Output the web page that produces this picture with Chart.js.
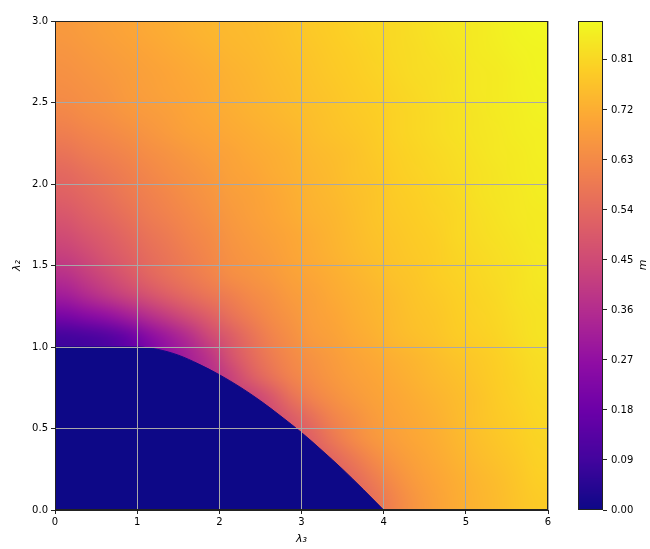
<!DOCTYPE html>
<html>
<head>
<meta charset="utf-8">
<script src="https://cdn.jsdelivr.net/npm/chart.js@4.4.1/dist/chart.umd.min.js"></script>
<style>
    html, body { margin: 0; padding: 0; background: #fff; }
    #wrap { position: relative; width: 650px; height: 549px; }
    #mainChart { position: absolute; left: 0; top: 0; }
    #barChart { position: absolute; left: 560px; top: 0; }
</style>
</head>
<body>
<div id="wrap">
    <canvas id="mainChart" width="560" height="549"></canvas>
    <canvas id="barChart" width="90" height="549"></canvas>
</div>
<script>
// cell centres of the m(lambda3, lambda2) grid
const lambda3Centers = [0.125, 0.375, 0.625, 0.875, 1.125, 1.375, 1.625, 1.875,
    2.125, 2.375, 2.625, 2.875, 3.125, 3.375, 3.625, 3.875,
    4.125, 4.375, 4.625, 4.875, 5.125, 5.375, 5.625, 5.875];
const lambda2Centers = [2.9375, 2.8125, 2.6875, 2.5625, 2.4375, 2.3125, 2.1875, 2.0625,
    1.9375, 1.8125, 1.6875, 1.5625, 1.4375, 1.3125, 1.1875, 1.0625,
    0.9375, 0.8125, 0.6875, 0.5625, 0.4375, 0.3125, 0.1875, 0.0625];

// m values, one row per lambda2 centre (top to bottom)
const mRows = [
    [0.67, 0.68, 0.69, 0.70, 0.71, 0.72, 0.73, 0.74, 0.745, 0.75, 0.76, 0.77, 0.78, 0.79, 0.80, 0.81, 0.815, 0.825, 0.835, 0.845, 0.85, 0.86, 0.87, 0.875],
    [0.66, 0.67, 0.68, 0.69, 0.70, 0.71, 0.72, 0.73, 0.74, 0.745, 0.755, 0.765, 0.775, 0.785, 0.795, 0.805, 0.815, 0.82, 0.83, 0.84, 0.85, 0.855, 0.865, 0.87],
    [0.65, 0.66, 0.67, 0.68, 0.69, 0.70, 0.71, 0.72, 0.73, 0.74, 0.75, 0.76, 0.77, 0.78, 0.79, 0.80, 0.81, 0.82, 0.825, 0.835, 0.845, 0.85, 0.86, 0.87],
    [0.64, 0.65, 0.66, 0.675, 0.685, 0.695, 0.705, 0.715, 0.725, 0.735, 0.745, 0.755, 0.765, 0.775, 0.785, 0.795, 0.805, 0.815, 0.825, 0.835, 0.845, 0.85, 0.86, 0.865],
    [0.625, 0.64, 0.65, 0.665, 0.675, 0.685, 0.70, 0.71, 0.72, 0.73, 0.74, 0.75, 0.76, 0.77, 0.78, 0.79, 0.80, 0.81, 0.82, 0.83, 0.84, 0.85, 0.855, 0.865],
    [0.60, 0.615, 0.63, 0.645, 0.66, 0.675, 0.69, 0.70, 0.71, 0.72, 0.73, 0.74, 0.755, 0.765, 0.775, 0.785, 0.80, 0.81, 0.82, 0.83, 0.84, 0.845, 0.855, 0.86],
    [0.57, 0.59, 0.605, 0.62, 0.64, 0.655, 0.67, 0.685, 0.695, 0.71, 0.72, 0.73, 0.745, 0.755, 0.765, 0.78, 0.795, 0.805, 0.815, 0.825, 0.835, 0.845, 0.85, 0.86],
    [0.54, 0.56, 0.58, 0.60, 0.62, 0.64, 0.655, 0.67, 0.69, 0.70, 0.715, 0.725, 0.74, 0.75, 0.765, 0.775, 0.79, 0.80, 0.81, 0.82, 0.83, 0.84, 0.85, 0.855],
    [0.52, 0.54, 0.56, 0.585, 0.605, 0.625, 0.645, 0.66, 0.68, 0.69, 0.705, 0.72, 0.735, 0.745, 0.76, 0.77, 0.785, 0.795, 0.805, 0.815, 0.83, 0.84, 0.845, 0.855],
    [0.49, 0.515, 0.54, 0.565, 0.59, 0.61, 0.63, 0.65, 0.67, 0.685, 0.70, 0.715, 0.73, 0.74, 0.755, 0.77, 0.78, 0.79, 0.80, 0.81, 0.825, 0.835, 0.845, 0.85],
    [0.455, 0.485, 0.51, 0.54, 0.57, 0.59, 0.615, 0.635, 0.66, 0.675, 0.69, 0.705, 0.72, 0.735, 0.75, 0.765, 0.775, 0.785, 0.795, 0.81, 0.82, 0.83, 0.84, 0.85],
    [0.42, 0.45, 0.485, 0.515, 0.55, 0.575, 0.60, 0.625, 0.65, 0.665, 0.68, 0.70, 0.715, 0.73, 0.745, 0.76, 0.77, 0.78, 0.79, 0.805, 0.815, 0.825, 0.835, 0.845],
    [0.37, 0.41, 0.45, 0.49, 0.53, 0.56, 0.585, 0.61, 0.64, 0.655, 0.67, 0.69, 0.705, 0.72, 0.735, 0.75, 0.765, 0.775, 0.79, 0.80, 0.81, 0.82, 0.83, 0.845],
    [0.31, 0.35, 0.39, 0.43, 0.47, 0.51, 0.545, 0.575, 0.60, 0.63, 0.65, 0.675, 0.69, 0.71, 0.725, 0.74, 0.755, 0.77, 0.78, 0.795, 0.805, 0.815, 0.83, 0.84],
    [0.21, 0.24, 0.27, 0.31, 0.36, 0.41, 0.46, 0.51, 0.56, 0.60, 0.635, 0.66, 0.685, 0.70, 0.72, 0.735, 0.75, 0.765, 0.775, 0.79, 0.80, 0.81, 0.825, 0.835],
    [0.09, 0.10, 0.12, 0.16, 0.24, 0.30, 0.36, 0.44, 0.50, 0.56, 0.61, 0.645, 0.675, 0.69, 0.71, 0.725, 0.745, 0.76, 0.77, 0.785, 0.795, 0.805, 0.82, 0.835],
    [0, 0, 0, 0, 0.20, 0.27, 0.32, 0.38, 0.47, 0.54, 0.59, 0.63, 0.655, 0.675, 0.695, 0.71, 0.725, 0.74, 0.755, 0.77, 0.78, 0.795, 0.81, 0.825],
    [0, 0, 0, 0, 0, 0, 0, 0.36, 0.42, 0.50, 0.56, 0.61, 0.64, 0.665, 0.685, 0.70, 0.715, 0.73, 0.745, 0.76, 0.775, 0.79, 0.805, 0.82],
    [0, 0, 0, 0, 0, 0, 0, 0, 0, 0.42, 0.48, 0.56, 0.61, 0.645, 0.67, 0.69, 0.705, 0.72, 0.735, 0.75, 0.765, 0.785, 0.80, 0.815],
    [0, 0, 0, 0, 0, 0, 0, 0, 0, 0, 0.45, 0.50, 0.555, 0.61, 0.645, 0.675, 0.695, 0.71, 0.725, 0.745, 0.765, 0.78, 0.795, 0.81],
    [0, 0, 0, 0, 0, 0, 0, 0, 0, 0, 0, 0.48, 0.52, 0.58, 0.63, 0.665, 0.685, 0.705, 0.72, 0.74, 0.76, 0.775, 0.79, 0.805],
    [0, 0, 0, 0, 0, 0, 0, 0, 0, 0, 0, 0, 0.49, 0.53, 0.58, 0.63, 0.665, 0.69, 0.71, 0.73, 0.75, 0.765, 0.78, 0.80],
    [0, 0, 0, 0, 0, 0, 0, 0, 0, 0, 0, 0, 0, 0.50, 0.54, 0.59, 0.64, 0.675, 0.70, 0.72, 0.74, 0.755, 0.775, 0.795],
    [0, 0, 0, 0, 0, 0, 0, 0, 0, 0, 0, 0, 0, 0, 0.51, 0.56, 0.615, 0.66, 0.69, 0.715, 0.735, 0.75, 0.77, 0.785]
];

// edge of the m = 0 region
const boundaryLambda3 = [0, 1.0, 1.25, 1.5, 1.75, 2.0, 2.25, 2.5, 2.75, 3.0, 3.25, 3.5, 3.75, 4.0];
const boundaryLambda2 = [1.0, 1.0, 0.985, 0.95, 0.895, 0.83, 0.755, 0.67, 0.575, 0.475, 0.365, 0.25, 0.127, 0.0];

const xTicks = [0, 1, 2, 3, 4, 5, 6];
const yTicks = [0, 0.5, 1.0, 1.5, 2.0, 2.5, 3.0];
const cbTicks = [0, 0.09, 0.18, 0.27, 0.36, 0.45, 0.54, 0.63, 0.72, 0.81];
const mMax = 0.88;

// plasma colormap stops
const plasma = ['#0d0887', '#41049d', '#6a00a8', '#8f0da4', '#b12a90', '#cc4778',
    '#e16462', '#f2844b', '#fca636', '#fcce25', '#f0f921'];

function hexToRgb(h) {
    return [parseInt(h.slice(1, 3), 16), parseInt(h.slice(3, 5), 16), parseInt(h.slice(5, 7), 16)];
}
const plasmaRgb = plasma.map(hexToRgb);

function rgbFor(m) {
    let t = Math.min(Math.max(m / mMax, 0), 1) * (plasmaRgb.length - 1);
    let i = Math.min(Math.floor(t), plasmaRgb.length - 2);
    let f = t - i;
    let a = plasmaRgb[i], b = plasmaRgb[i + 1];
    return a.map((v, k) => Math.round(v + (b[k] - v) * f));
}

function colorFor(m) {
    return 'rgb(' + rgbFor(m).join(',') + ')';
}

const font = { family: 'DejaVu Sans', size: 10 };
const textColor = '#000';
const gridColor = '#a8a8a8';

// paints the grid cells (smoothed like imshow) onto the area given by the scales
const cellPlugin = {
    id: 'cells',
    beforeDatasetsDraw(chart) {
        const { ctx, chartArea, scales: { x, y } } = chart;
        const nx = lambda3Centers.length, ny = lambda2Centers.length;
        const w = lambda3Centers[1] - lambda3Centers[0];
        const h = lambda2Centers[0] - lambda2Centers[1];

        // one pixel per cell, plus a 1px copied border so the edges do not fade
        let off = document.createElement('canvas');
        off.width = nx + 2;
        off.height = ny + 2;
        let octx = off.getContext('2d');
        let img = octx.createImageData(nx + 2, ny + 2);
        let colors = [];
        for (let i = 0; i < ny; i++) colors.push([]);
        for (let j = 0; j < nx; j++) {
            let above = null;
            for (let i = 0; i < ny; i++) {
                let m = mRows[i][j];
                // cells inside the m = 0 area are painted over by the boundary fill,
                // keep the colour of the cell above so the smoothing does not bleed dark
                let c = (m > 0 || above === null) ? rgbFor(m) : above;
                if (m > 0) above = c;
                colors[i][j] = c;
            }
        }
        for (let py = 0; py < ny + 2; py++) {
            for (let px = 0; px < nx + 2; px++) {
                let i = Math.min(Math.max(py - 1, 0), ny - 1);
                let j = Math.min(Math.max(px - 1, 0), nx - 1);
                let c = colors[i][j];
                let k = (py * (nx + 2) + px) * 4;
                img.data[k] = c[0];
                img.data[k + 1] = c[1];
                img.data[k + 2] = c[2];
                img.data[k + 3] = 255;
            }
        }
        octx.putImageData(img, 0, 0);

        let x0 = x.getPixelForValue(lambda3Centers[0] - w / 2);
        let x1 = x.getPixelForValue(lambda3Centers[nx - 1] + w / 2);
        let y0 = y.getPixelForValue(lambda2Centers[0] + h / 2);
        let y1 = y.getPixelForValue(lambda2Centers[ny - 1] - h / 2);

        ctx.save();
        ctx.beginPath();
        ctx.rect(chartArea.left, chartArea.top, chartArea.right - chartArea.left, chartArea.bottom - chartArea.top);
        ctx.clip();
        ctx.imageSmoothingEnabled = true;
        ctx.imageSmoothingQuality = 'high';
        ctx.drawImage(off, 1, 1, nx, ny, x0, y0, x1 - x0, y1 - y0);
        ctx.restore();
    },
    afterDraw(chart) {
        const { ctx, chartArea } = chart;
        ctx.save();
        ctx.strokeStyle = '#222';
        ctx.lineWidth = 1;
        ctx.strokeRect(Math.round(chartArea.left) + 0.5, Math.round(chartArea.top) + 0.5,
            Math.round(chartArea.right - chartArea.left) - 1, Math.round(chartArea.bottom - chartArea.top) - 1);
        ctx.restore();
    }
};

const mainCtx = document.getElementById('mainChart').getContext('2d');
new Chart(mainCtx, {
    type: 'line',
    data: {
        datasets: [{
            label: 'm = 0',
            data: boundaryLambda3.map((v, i) => ({ x: v, y: boundaryLambda2[i] })),
            borderColor: '#0d0887',
            backgroundColor: '#0d0887',
            borderWidth: 1,
            pointRadius: 0,
            fill: 'origin',
            cubicInterpolationMode: 'monotone'
        }]
    },
    options: {
        responsive: false,
        animation: false,
        layout: { padding: { left: 0, top: 21, right: 12, bottom: 0 } },
        plugins: { legend: { display: false }, tooltip: { enabled: false } },
        scales: {
            x: {
                type: 'linear',
                min: 0,
                max: 6,
                afterBuildTicks: (scale) => { scale.ticks = xTicks.map(v => ({ value: v })); },
                afterFit: (scale) => { scale.height = 39; },
                ticks: { font: font, color: textColor, padding: 2, maxRotation: 0, callback: (v) => String(v) },
                grid: { z: 1, color: gridColor, lineWidth: 1, tickColor: '#222', tickLength: 4 },
                border: { z: 2, color: '#222' },
                title: { display: true, text: 'λ₃', font: { family: 'DejaVu Sans', size: 11, style: 'italic' }, color: textColor, padding: { top: 0, bottom: 3 } }
            },
            y: {
                type: 'linear',
                min: 0,
                max: 3,
                afterBuildTicks: (scale) => { scale.ticks = yTicks.map(v => ({ value: v })); },
                afterFit: (scale) => { scale.width = 55; },
                ticks: { font: font, color: textColor, padding: 3, callback: (v) => v.toFixed(1) },
                grid: { z: 1, color: gridColor, lineWidth: 1, tickColor: '#222', tickLength: 4 },
                border: { z: 2, color: '#222' },
                title: { display: true, text: 'λ₂', font: { family: 'DejaVu Sans', size: 11, style: 'italic' }, color: textColor, padding: { top: 11, bottom: 0 } }
            }
        }
    },
    plugins: [cellPlugin]
});

// colour bar
const barPlugin = {
    id: 'colorbar',
    beforeDatasetsDraw(chart) {
        const { ctx, chartArea, scales: { y } } = chart;
        ctx.save();
        for (let py = Math.floor(chartArea.top); py < Math.ceil(chartArea.bottom); py++) {
            ctx.fillStyle = colorFor(y.getValueForPixel(py + 0.5));
            ctx.fillRect(chartArea.left, py, chartArea.right - chartArea.left, 1);
        }
        ctx.restore();
    },
    afterDraw(chart) {
        const { ctx, chartArea } = chart;
        ctx.save();
        ctx.strokeStyle = '#222';
        ctx.lineWidth = 1;
        ctx.strokeRect(Math.round(chartArea.left) + 0.5, Math.round(chartArea.top) + 0.5,
            Math.round(chartArea.right - chartArea.left) - 1, Math.round(chartArea.bottom - chartArea.top) - 1);
        ctx.translate(83.5, 265);
        ctx.rotate(-Math.PI / 2);
        ctx.fillStyle = textColor;
        ctx.font = 'italic 11px "DejaVu Sans"';
        ctx.textAlign = 'center';
        ctx.textBaseline = 'middle';
        ctx.fillText('m', 0, 0);
        ctx.restore();
    }
};

const barCtx = document.getElementById('barChart').getContext('2d');
new Chart(barCtx, {
    type: 'line',
    data: { datasets: [] },
    options: {
        responsive: false,
        animation: false,
        layout: { padding: { left: 18, top: 21, right: 0, bottom: 39 } },
        plugins: { legend: { display: false }, tooltip: { enabled: false } },
        scales: {
            x: { type: 'linear', min: 0, max: 1, display: false },
            y: {
                type: 'linear',
                position: 'right',
                min: 0,
                max: mMax,
                afterBuildTicks: (scale) => { scale.ticks = cbTicks.map(v => ({ value: v })); },
                afterFit: (scale) => { scale.width = 47; },
                ticks: { font: font, color: textColor, padding: 4, callback: (v) => v.toFixed(2) },
                grid: { drawOnChartArea: false, tickColor: '#222', tickLength: 4 },
                border: { display: false }
            }
        }
    },
    plugins: [barPlugin]
});
</script>
</body>
</html>
